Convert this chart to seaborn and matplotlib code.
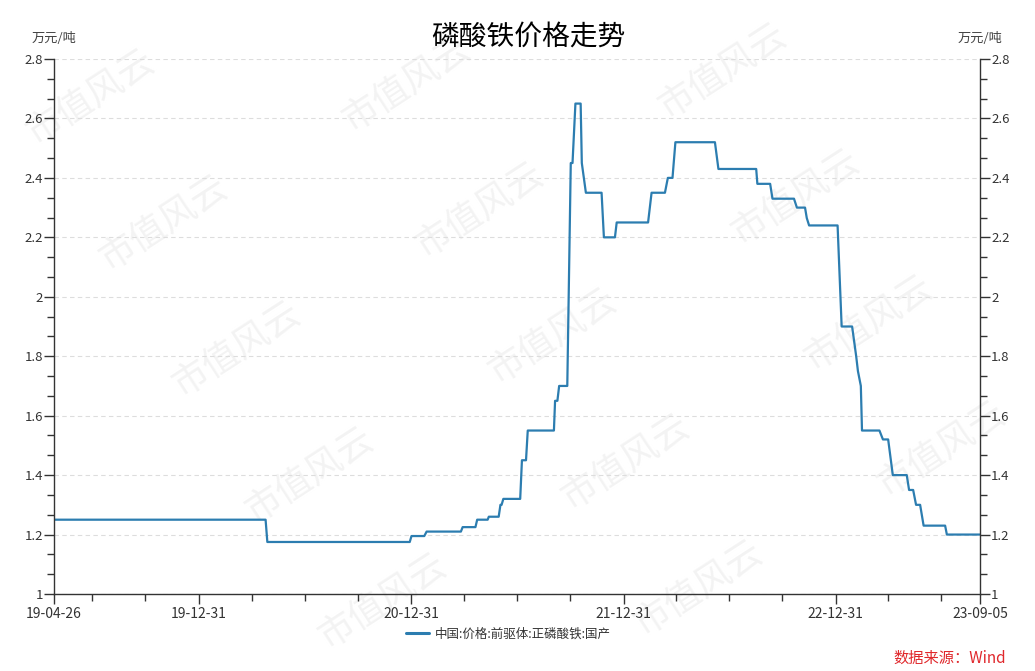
import pandas as pd
import matplotlib
matplotlib.use("Agg")
import matplotlib.pyplot as plt
import matplotlib.dates as mdates
from matplotlib.ticker import MultipleLocator, FixedLocator
from matplotlib.lines import Line2D
import seaborn as sns

# price of ferric phosphate (10k yuan / ton)
DATES = [
    "2019-04-26", "2020-04-24", "2020-04-27", "2020-12-28", "2020-12-31",
    "2021-01-22", "2021-01-26", "2021-03-26", "2021-03-29", "2021-04-20",
    "2021-04-23", "2021-05-11", "2021-05-13", "2021-05-30", "2021-06-02",
    "2021-06-04", "2021-06-07", "2021-07-06", "2021-07-09", "2021-07-16",
    "2021-07-19", "2021-09-02", "2021-09-04", "2021-09-08", "2021-09-11",
    "2021-09-25", "2021-10-01", "2021-10-04", "2021-10-09", "2021-10-18",
    "2021-10-20", "2021-10-27", "2021-11-23", "2021-11-27", "2021-12-16",
    "2021-12-19", "2022-02-11", "2022-02-17", "2022-03-12", "2022-03-17",
    "2022-03-25", "2022-03-30", "2022-06-06", "2022-06-12", "2022-08-16",
    "2022-08-18", "2022-09-09", "2022-09-13", "2022-10-20", "2022-10-25",
    "2022-11-08", "2022-11-11", "2022-11-15", "2023-01-03", "2023-01-10",
    "2023-01-28", "2023-02-04", "2023-02-07", "2023-02-12", "2023-02-14",
    "2023-03-16", "2023-03-22", "2023-03-31", "2023-04-05", "2023-04-08",
    "2023-05-02", "2023-05-06", "2023-05-13", "2023-05-18", "2023-05-25",
    "2023-05-31", "2023-07-07", "2023-07-10", "2023-09-05",
]
PRICES = [
    1.25, 1.25, 1.175, 1.175, 1.195,
    1.195, 1.21, 1.21, 1.225, 1.225,
    1.25, 1.25, 1.26, 1.26, 1.30,
    1.30, 1.32, 1.32, 1.45, 1.45,
    1.55, 1.55, 1.65, 1.65, 1.70,
    1.70, 2.45, 2.45, 2.65, 2.65,
    2.45, 2.35, 2.35, 2.20, 2.20,
    2.25, 2.25, 2.35, 2.35, 2.40,
    2.40, 2.52, 2.52, 2.43, 2.43,
    2.38, 2.38, 2.33, 2.33, 2.30,
    2.30, 2.265, 2.24, 2.24, 1.90,
    1.90, 1.80, 1.75, 1.70, 1.55,
    1.55, 1.52, 1.52, 1.445, 1.40,
    1.40, 1.35, 1.35, 1.30, 1.30,
    1.23, 1.23, 1.20, 1.20,
]

MAJOR_X = ["2019-04-26", "2019-12-31", "2020-12-31", "2021-12-31", "2022-12-31", "2023-09-05"]
SERIES_NAME = "中国:价格:前驱体:正磷酸铁:国产"
TITLE = "磷酸铁价格走势"
UNIT = "万元/吨"
SOURCE = "数据来源：Wind"
WATERMARK = "市值风云"

LINE_COLOR = "#2c7db0"
INK = "#333333"

sns.set_theme(style="white")
plt.rcParams["font.family"] = ["Noto Sans CJK SC", "DejaVu Sans"]
plt.rcParams["axes.unicode_minus"] = False

df = pd.DataFrame({"date": pd.to_datetime(DATES), "price": PRICES})

W, H = 1035, 671
fig = plt.figure(figsize=(W / 100, H / 100), dpi=100)
fig.patch.set_facecolor("white")
ax = fig.add_axes([54 / W, 1 - 594 / H, (980 - 54) / W, (594 - 59) / H])
ax.set_facecolor("none")

# faint diagonal watermark tiles (only the ones that fit inside the picture)
for i in range(-2, 5):
    for j in range(-2, 6):
        px = 90 + 316 * i + 73 * j
        py = 97 - 13 * i + 126 * j
        if 70 < px < W - 70 and 45 < py < H - 45:
            fig.text(px / W, 1 - py / H, WATERMARK, fontsize=26, color="#f3f3f3",
                     rotation=33, ha="center", va="center", fontweight="light",
                     zorder=-5)

sns.lineplot(data=df, x="date", y="price", ax=ax, color=LINE_COLOR,
             linewidth=1.6, estimator=None, legend=False)

x0, x1 = pd.Timestamp(MAJOR_X[0]), pd.Timestamp(MAJOR_X[-1])
ax.set_xlim(x0, x1)
ax.set_ylim(1.0, 2.8)

# x ticks: labelled dates plus quarter ends
ax.xaxis.set_major_locator(FixedLocator(mdates.date2num(pd.to_datetime(MAJOR_X))))
ax.xaxis.set_major_formatter(mdates.DateFormatter("%y-%m-%d"))
quarters = [d for d in pd.date_range(x0, x1, freq="QE") if d.month != 12]
ax.xaxis.set_minor_locator(FixedLocator(mdates.date2num(quarters)))

ax.yaxis.set_major_locator(MultipleLocator(0.2))
ax.yaxis.set_minor_locator(MultipleLocator(0.2 / 3))
ax.yaxis.set_major_formatter(plt.FuncFormatter(lambda v, p: f"{v:g}"))

ax.tick_params(axis="both", which="both", direction="out", colors=INK, labelcolor=INK,
               labelsize=9.5, width=1)
ax.tick_params(axis="y", which="major", length=7, pad=1, left=True, right=True,
               labelleft=True, labelright=True)
ax.tick_params(axis="y", which="minor", length=5, left=True, right=True)
ax.tick_params(axis="x", which="major", length=7, pad=2, bottom=True, labelsize=10)
ax.tick_params(axis="x", which="minor", length=5, bottom=True)

ax.grid(axis="y", which="major", color="#dddddd", linestyle=(0, (4, 3)), linewidth=0.8)
ax.grid(axis="x", visible=False)

for side in ["left", "right", "bottom"]:
    ax.spines[side].set_visible(True)
    ax.spines[side].set_color(INK)
    ax.spines[side].set_linewidth(1)
ax.spines["top"].set_visible(False)

ax.set_xlabel("")
ax.set_ylabel("")

ax.text(0, 1.039, UNIT, transform=ax.transAxes, ha="center", va="center",
        fontsize=9.5, color="#444444")
ax.text(1, 1.039, UNIT, transform=ax.transAxes, ha="center", va="center",
        fontsize=9.5, color="#444444")

fig.text(528 / W, 1 - 37 / H, TITLE, ha="center", va="center", fontsize=20, color="black")

handle = Line2D([], [], color=LINE_COLOR, linewidth=2.2)
fig.legend([handle], [SERIES_NAME], loc="center", bbox_to_anchor=(508 / W, 1 - 634 / H),
           frameon=False, fontsize=9, handlelength=1.9, handletextpad=0.4,
           labelcolor=INK)

fig.text(1006 / W, 1 - 658 / H, SOURCE, ha="right", va="center", fontsize=11,
         color="#e0282c")

fig.savefig("out.png", dpi=100, facecolor="white")
plt.close(fig)
